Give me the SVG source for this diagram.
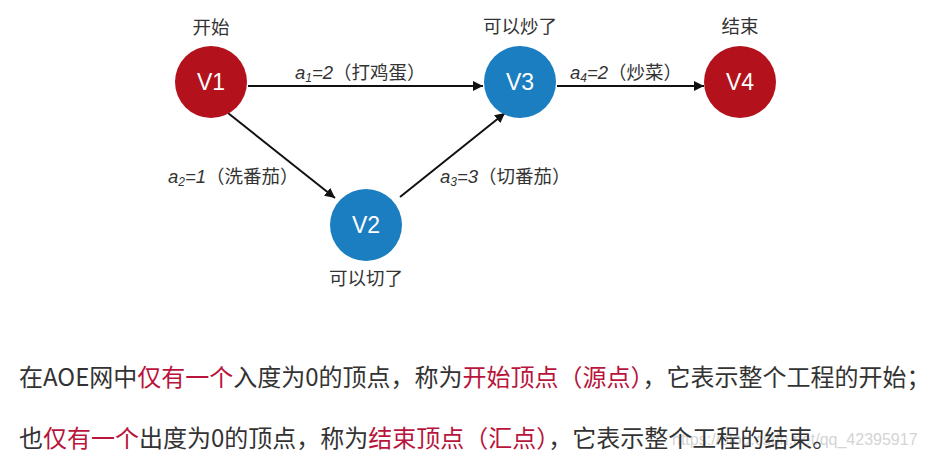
<svg xmlns="http://www.w3.org/2000/svg" width="929" height="458" viewBox="0 0 929 458">
<defs>
<marker id="arr" viewBox="0 0 10 10" refX="10" refY="5" markerWidth="10" markerHeight="10" markerUnits="userSpaceOnUse" orient="auto">
<path d="M0,0 L10,5 L0,10 Z" fill="#111"/>
</marker>
<style>
.red{fill:#b3111c;}
.blue{fill:#1b7ec0;}
.vt{font-family:"Liberation Sans","Noto Sans CJK SC",sans-serif;font-size:23px;fill:#fff;text-anchor:middle;}
.lbl{font-family:"Noto Sans CJK SC",sans-serif;font-size:18.5px;fill:#333;text-anchor:middle;}
.el{font-family:"Liberation Sans","Noto Sans CJK SC",sans-serif;font-size:18.5px;fill:#333;}
.it{font-style:italic;}
.sub{font-size:12px;font-style:italic;}
.edge{stroke:#111;stroke-width:2;fill:none;marker-end:url(#arr);}
.body{font-family:"Noto Sans CJK SC",sans-serif;font-size:24px;fill:#333;}
.hl{fill:#b8143c;}
.wm{font-family:"Liberation Sans",sans-serif;font-size:16px;fill:#d4d4d4;}
</style>
</defs>
<rect width="929" height="458" fill="#fff"/>
<g id="connectors">
<line class="edge" x1="248" y1="86" x2="483" y2="86"/>
<line class="edge" x1="228" y1="113" x2="335" y2="198"/>
<line class="edge" x1="400" y1="197" x2="505" y2="113"/>
<line class="edge" x1="557" y1="86" x2="704" y2="86"/>
<text class="el" x="295" y="79"><tspan class="it">a</tspan><tspan class="sub" dy="3">1</tspan><tspan class="it" dy="-3">=2</tspan>（打鸡蛋）</text>
<text class="el" x="168" y="183"><tspan class="it">a</tspan><tspan class="sub" dy="3">2</tspan><tspan class="it" dy="-3">=1</tspan>（洗番茄）</text>
<text class="el" x="440" y="183"><tspan class="it">a</tspan><tspan class="sub" dy="3">3</tspan><tspan class="it" dy="-3">=3</tspan>（切番茄）</text>
<text class="el" x="570" y="79"><tspan class="it">a</tspan><tspan class="sub" dy="3">4</tspan><tspan class="it" dy="-3">=2</tspan>（炒菜）</text>
</g>
<g id="V1">
<circle class="red" cx="211" cy="82" r="36"/>
<text class="vt" x="211" y="90">V1</text>
<text class="lbl" x="211" y="34">开始</text>
</g>
<g id="V2">
<circle class="blue" cx="366" cy="225" r="36"/>
<text class="vt" x="366" y="233">V2</text>
<text class="lbl" x="366" y="285">可以切了</text>
</g>
<g id="V3">
<circle class="blue" cx="520" cy="82" r="36"/>
<text class="vt" x="520" y="90">V3</text>
<text class="lbl" x="520" y="33">可以炒了</text>
</g>
<g id="V4">
<circle class="red" cx="740" cy="82" r="36"/>
<text class="vt" x="740" y="90">V4</text>
<text class="lbl" x="740" y="33">结束</text>
</g>
<g id="caption">
<text class="body" x="19" y="386">在AOE网中<tspan class="hl">仅有一个</tspan>入度为0的顶点，称为<tspan class="hl">开始顶点（源点）</tspan>，它表示整个工程的开始；</text>
<text class="wm" x="672" y="445">https://blog.csdn.net/qq_42395917</text>
<text class="body" x="19" y="447">也<tspan class="hl">仅有一个</tspan>出度为0的顶点，称为<tspan class="hl">结束顶点（汇点）</tspan>，它表示整个工程的结束。</text>
</g>
</svg>
